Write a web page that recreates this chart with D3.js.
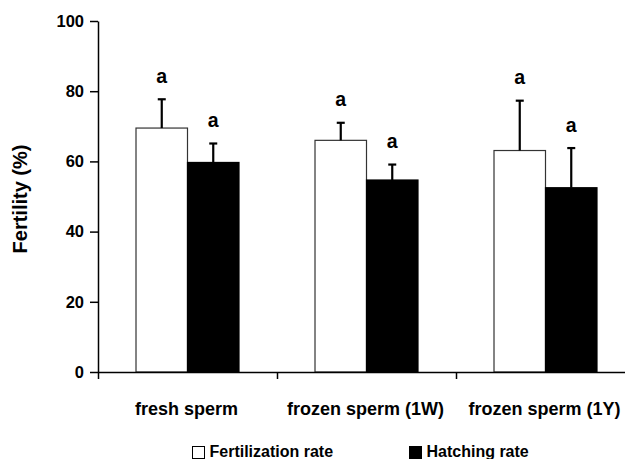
<!DOCTYPE html>
<html>
<head>
<meta charset="utf-8">
<script src="https://cdn.jsdelivr.net/npm/d3@7/dist/d3.min.js"></script>
<style>
  html, body { margin: 0; padding: 0; background: #fff; }
  svg { display: block; }
  text { font-family: "Liberation Sans", Arial, Helvetica, sans-serif; font-weight: bold; fill: #000; }
</style>
</head>
<body>
<svg id="chart" width="625" height="459"></svg>
<script>
// ---- data ----
const categories = ["fresh sperm", "frozen sperm (1W)", "frozen sperm (1Y)"];
const seriesNames = ["Fertilization rate", "Hatching rate"];
const fertilization = [69.5, 66.0, 63.1];
const fertilizationErr = [8.2, 5.0, 14.2];
const hatching = [59.7, 54.7, 52.5];
const hatchingErr = [5.4, 4.4, 11.3];
const sigLetters = [["a", "a"], ["a", "a"], ["a", "a"]];
const yTicks = [0, 20, 40, 60, 80, 100];
const yLabel = "Fertility (%)";

const seriesFill = ["#ffffff", "#000000"];

const svg = d3.select("#chart");
const plotLeft = 98, plotTop = 21, plotBottom = 372, plotRightEnd = 635;

const x = d3.scaleBand().domain(categories).range([plotLeft, plotRightEnd]).paddingInner(0).paddingOuter(0);
const xs = d3.scaleBand().domain(seriesNames).range([0, x.bandwidth()]).paddingInner(0).paddingOuter(0.738);
const y = d3.scaleLinear().domain([0, 100]).range([plotBottom, plotTop]);

const rows = categories.map((c, i) => ({
  cat: c,
  vals: [
    { s: seriesNames[0], v: fertilization[i], e: fertilizationErr[i], l: sigLetters[i][0], k: 0 },
    { s: seriesNames[1], v: hatching[i], e: hatchingErr[i], l: sigLetters[i][1], k: 1 }
  ]
}));

const g = svg.selectAll("g.cat").data(rows).enter().append("g")
  .attr("class", "cat")
  .attr("transform", d => `translate(${x(d.cat)},0)`);

const bars = g.selectAll("g.bar").data(d => d.vals).enter().append("g").attr("class", "bar");

bars.append("rect")
  .attr("x", d => xs(d.s))
  .attr("y", d => y(d.v))
  .attr("width", xs.bandwidth())
  .attr("height", d => y(0) - y(d.v))
  .attr("fill", d => seriesFill[d.k])
  .attr("stroke", d => d.k === 0 ? "#333" : "#000")
  .attr("stroke-width", 1.2);

// error bars (upward only)
bars.append("line")
  .attr("x1", d => xs(d.s) + xs.bandwidth() / 2)
  .attr("x2", d => xs(d.s) + xs.bandwidth() / 2)
  .attr("y1", d => y(d.v))
  .attr("y2", d => y(d.v + d.e))
  .attr("stroke", "#000").attr("stroke-width", 2.2);
bars.append("line")
  .attr("x1", d => xs(d.s) + xs.bandwidth() / 2 - 4)
  .attr("x2", d => xs(d.s) + xs.bandwidth() / 2 + 4)
  .attr("y1", d => y(d.v + d.e))
  .attr("y2", d => y(d.v + d.e))
  .attr("stroke", "#000").attr("stroke-width", 2.2);

bars.append("text")
  .attr("x", d => xs(d.s) + xs.bandwidth() / 2)
  .attr("y", d => y(d.v + d.e) - 16.5)
  .attr("text-anchor", "middle")
  .style("font-size", "19.5px")
  .text(d => d.l);

// y axis
const yAxis = d3.axisLeft(y).tickValues(yTicks).tickSize(8).tickPadding(6).tickSizeOuter(0);
const ya = svg.append("g").attr("transform", `translate(${plotLeft},0)`).call(yAxis);
ya.select(".domain").attr("stroke", "#000").attr("stroke-width", 1.5);
ya.selectAll(".tick line").attr("stroke", "#000").attr("stroke-width", 1.5);
ya.selectAll(".tick text").style("font-size", "16.5px").attr("fill", "#000");

// x axis
const boundaries = categories.map(c => x(c)).concat([plotRightEnd]);
const xLin = d3.scaleLinear().domain([plotLeft, plotRightEnd]).range([plotLeft, plotRightEnd]);
const xAxis = d3.axisBottom(xLin).tickValues(boundaries).tickSize(7).tickSizeOuter(0).tickFormat("");
const xa = svg.append("g").attr("transform", `translate(0,${plotBottom})`).call(xAxis);
xa.select(".domain").attr("stroke", "#000").attr("stroke-width", 1.5);
xa.selectAll(".tick line").attr("stroke", "#000").attr("stroke-width", 1.5);

// category labels
svg.selectAll("text.catlab").data(categories).enter().append("text")
  .attr("class", "catlab")
  .attr("x", d => x(d) + x.bandwidth() / 2 - 1)
  .attr("y", 415)
  .attr("text-anchor", "middle")
  .style("font-size", "18px")
  .text(d => d);

// y label
svg.append("text")
  .attr("transform", `translate(27,199) rotate(-90)`)
  .attr("text-anchor", "middle")
  .style("font-size", "20px")
  .text(yLabel);

// legend
const legendX = [192, 409];
const lg = svg.selectAll("g.leg").data(seriesNames).enter().append("g")
  .attr("class", "leg")
  .attr("transform", (d, i) => `translate(${legendX[i]},446)`);
lg.append("rect").attr("x", 0.5).attr("y", 0.5).attr("width", 12).attr("height", 12)
  .attr("fill", (d, i) => seriesFill[i]).attr("stroke", "#000").attr("stroke-width", 1);
lg.append("text").attr("x", 17.5).attr("y", 10.5).style("font-size", "16px").text(d => d);
</script>
</body>
</html>
